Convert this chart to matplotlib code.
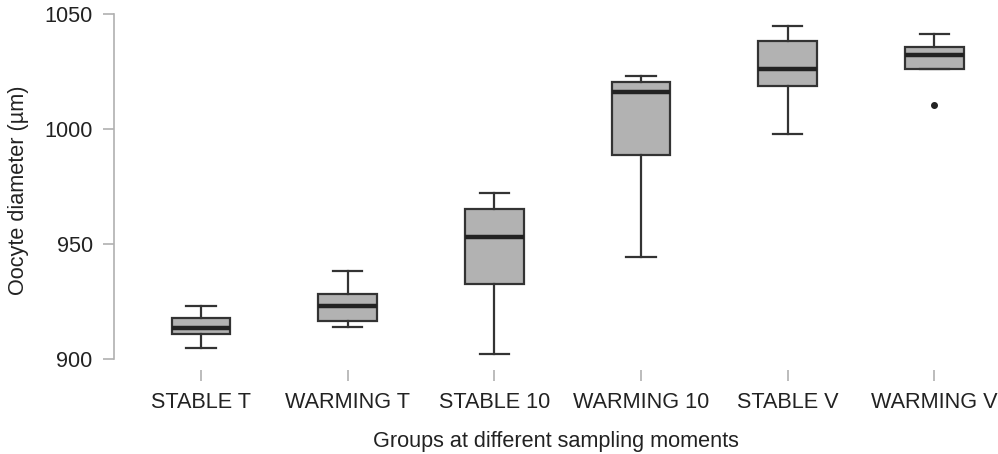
import matplotlib
matplotlib.use("Agg")
import matplotlib.pyplot as plt

plt.rcParams['font.family'] = ['Liberation Sans', 'DejaVu Sans']

groups = ["STABLE T", "WARMING T", "STABLE 10", "WARMING 10", "STABLE V", "WARMING V"]
whislo = [904.9, 913.8, 902.3, 944.3, 997.7, 1026.2]
q1 = [910.8, 916.5, 932.6, 988.5, 1018.8, 1026.2]
med = [913.6, 923.2, 953.2, 1015.9, 1026.1, 1032.0]
q3 = [917.6, 928.1, 965.0, 1020.3, 1038.3, 1035.5]
whishi = [923.0, 938.3, 972.0, 1023.0, 1044.8, 1041.2]
outliers = [[], [], [], [], [], [1010.5]]

stats = []
for i, name in enumerate(groups):
    stats.append(dict(label=name, whislo=whislo[i], q1=q1[i], med=med[i],
                      q3=q3[i], whishi=whishi[i], fliers=outliers[i]))

text_col = "#222222"
edge_col = "#333333"
axis_col = "#b0b0b0"
fs = 15.6

fig = plt.figure(figsize=(9.98, 4.54), dpi=100)
ax = fig.add_axes([0.1142, 0.185, 0.8858, 0.793])

ax.bxp(stats, positions=range(1, len(groups) + 1), widths=0.4,
       patch_artist=True,
       boxprops=dict(facecolor="#b2b2b2", edgecolor=edge_col, linewidth=1.6),
       medianprops=dict(color="#222222", linewidth=3.2, solid_capstyle="butt"),
       whiskerprops=dict(color=edge_col, linewidth=1.6),
       capprops=dict(color=edge_col, linewidth=1.6),
       capwidths=0.2,
       flierprops=dict(marker="o", markersize=4, markerfacecolor="#222222",
                       markeredgecolor="#222222"))

ax.set_xlim(0.407, 6.433)
ax.set_ylim(895.2, 1051.7)

for side in ["top", "right", "bottom"]:
    ax.spines[side].set_visible(False)
ax.spines["left"].set_color(axis_col)
ax.spines["left"].set_linewidth(1.2)
ax.spines["left"].set_bounds(900, 1050)

ax.set_yticks([900, 950, 1000, 1050])
ax.set_xticks(range(1, len(groups) + 1))
ax.set_xticklabels(groups)
ax.tick_params(axis="both", colors=axis_col, labelcolor=text_col, labelsize=fs,
               length=7.8, width=1.2)
ax.tick_params(axis="x", pad=8.0)
ax.tick_params(axis="y", pad=7.5)

ax.set_xlabel("Groups at different sampling moments", fontsize=fs, color=text_col,
              labelpad=13)
ax.set_ylabel("Oocyte diameter (µm)", fontsize=fs, color=text_col, labelpad=11)

fig.savefig("out.png", dpi=100)
